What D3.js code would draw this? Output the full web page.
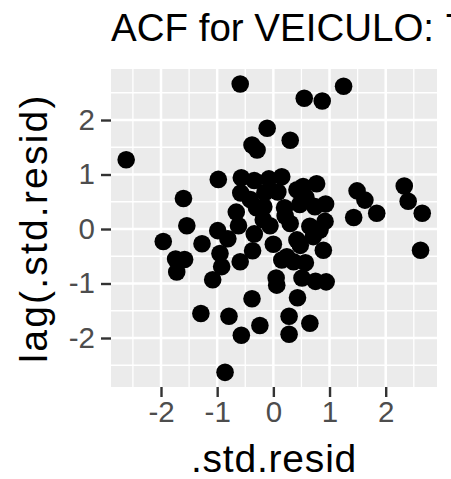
<!DOCTYPE html>
<html>
<head>
<meta charset="utf-8">
<script src="https://cdn.jsdelivr.net/npm/d3@7"></script>
<style>
  html, body { margin: 0; padding: 0; background: #ffffff; overflow: hidden; }
  svg { display: block; font-family: "Liberation Sans", Arial, Helvetica, sans-serif; }
</style>
</head>
<body>
<script>
// Standardised residuals (x) against their lag-1 values (y)
const stdResid = [
  -2.62, -0.59, 0.55, 0.87, 1.25, -0.11, 0.30, -0.38, -0.29,
  -0.98, -0.57, -0.34, -0.08, 0.15, 0.53, 0.77,
  -1.60, -0.58, -0.41, -0.15, 0.08, 0.42, 0.58,
  1.49, 1.63, 1.84, 1.43, 2.33, 2.40, 2.65, 2.62,
  -0.66, -0.30, -0.17, 0.20, 0.21, 0.47, 0.74, 0.93,
  -0.18, 0.30, 0.92, 0.65, -0.34, -0.06, -0.62, -0.99, -1.54, 0.83,
  -1.96, -1.27, -0.81, 0.00, 0.48, 0.71, 0.42, 0.89,
  -1.74, -1.58, -0.95, -0.37, -0.59, -0.92, 0.15, 0.36, 0.57, 0.24,
  -1.72, -1.08, 0.05, 0.06, 0.51, 0.75, 0.94,
  0.43, -0.38,
  -1.29, -0.79, -0.24, -0.57, 0.28, 0.28, 0.65, -0.86
];
const lagResid = [
  1.27, 2.66, 2.40, 2.35, 2.62, 1.85, 1.63, 1.54, 1.45,
  0.91, 0.94, 0.89, 0.92, 0.96, 0.78, 0.83,
  0.56, 0.66, 0.54, 0.67, 0.68, 0.72, 0.58,
  0.70, 0.53, 0.29, 0.21, 0.79, 0.51, 0.29, -0.39,
  0.31, 0.39, 0.41, 0.39, 0.24, 0.45, 0.41, 0.46,
  0.17, 0.10, 0.14, 0.05, -0.09, 0.06, 0.06, -0.03, 0.06, -0.02,
  -0.23, -0.27, -0.18, -0.28, -0.30, -0.14, -0.20, -0.39,
  -0.55, -0.56, -0.45, -0.40, -0.60, -0.69, -0.57, -0.60, -0.62, -0.51,
  -0.79, -0.93, -0.90, -1.03, -0.90, -0.96, -0.97,
  -1.26, -1.28,
  -1.55, -1.60, -1.77, -1.95, -1.60, -1.93, -1.73, -2.63
];

const xTicks = [-2, -1, 0, 1, 2];
const yTicks = [-2, -1, 0, 1, 2];
const xMinor = [-2.5, -1.5, -0.5, 0.5, 1.5, 2.5];
const yMinor = [-2.5, -1.5, -0.5, 0.5, 1.5, 2.5];

const titleText = "ACF for VEICULO: 7";
const xTitle = ".std.resid";
const yTitle = "lag(.std.resid)";

const W = 451, H = 479;
const panel = { left: 111, right: 437, top: 69, bottom: 387 };

const svg = d3.select("body").append("svg")
  .attr("width", W).attr("height", H);

const x = d3.scaleLinear().domain([-2.89, 2.913]).range([panel.left, panel.right]);
const y = d3.scaleLinear().domain([-2.899, 2.936]).range([panel.bottom, panel.top]);

// panel background
svg.append("rect")
  .attr("x", panel.left).attr("y", panel.top)
  .attr("width", panel.right - panel.left)
  .attr("height", panel.bottom - panel.top)
  .attr("fill", "#EBEBEB");

const grid = svg.append("g");
// minor grid
grid.selectAll(".vmin").data(xMinor).join("line")
  .attr("x1", d => x(d)).attr("x2", d => x(d))
  .attr("y1", panel.top).attr("y2", panel.bottom)
  .attr("stroke", "#fff").attr("stroke-width", 1.3);
grid.selectAll(".hmin").data(yMinor).join("line")
  .attr("y1", d => y(d)).attr("y2", d => y(d))
  .attr("x1", panel.left).attr("x2", panel.right)
  .attr("stroke", "#fff").attr("stroke-width", 1.3);
// major grid
grid.selectAll(".vmaj").data(xTicks).join("line")
  .attr("x1", d => x(d)).attr("x2", d => x(d))
  .attr("y1", panel.top).attr("y2", panel.bottom)
  .attr("stroke", "#fff").attr("stroke-width", 2.5);
grid.selectAll(".hmaj").data(yTicks).join("line")
  .attr("y1", d => y(d)).attr("y2", d => y(d))
  .attr("x1", panel.left).attr("x2", panel.right)
  .attr("stroke", "#fff").attr("stroke-width", 2.5);

// points
const pts = stdResid.map((v, i) => ({ x: v, y: lagResid[i] }));
svg.append("g").selectAll("circle").data(pts).join("circle")
  .attr("cx", d => x(d.x)).attr("cy", d => y(d.y))
  .attr("r", 8.8).attr("fill", "#000");

// axes
const fmt = d => d < 0 ? "-" + Math.abs(d) : String(d);
const xAxis = d3.axisBottom(x).tickValues(xTicks).tickSize(10).tickPadding(4).tickFormat(fmt);
const gx = svg.append("g").attr("transform", `translate(0,${panel.bottom})`).call(xAxis);
gx.select(".domain").remove();
gx.selectAll(".tick line").attr("stroke", "#333").attr("stroke-width", 2.4);
gx.selectAll(".tick text").attr("fill", "#4D4D4D").attr("font-size", 29.5)
  .attr("font-family", "Liberation Sans, Arial, sans-serif");

const yAxis = d3.axisLeft(y).tickValues(yTicks).tickSize(10).tickPadding(6).tickFormat(fmt);
const gy = svg.append("g").attr("transform", `translate(${panel.left},0)`).call(yAxis);
gy.select(".domain").remove();
gy.selectAll(".tick line").attr("stroke", "#333").attr("stroke-width", 2.4);
gy.selectAll(".tick text").attr("fill", "#4D4D4D").attr("font-size", 29.5)
  .attr("font-family", "Liberation Sans, Arial, sans-serif");

// titles
svg.append("text")
  .attr("x", panel.left).attr("y", 41)
  .attr("font-size", 38.5).attr("fill", "#000")
  .text(titleText);

svg.append("text")
  .attr("x", (panel.left + panel.right) / 2).attr("y", 472)
  .attr("text-anchor", "middle")
  .attr("font-size", 39).attr("letter-spacing", 0.8).attr("fill", "#000")
  .text(xTitle);

svg.append("text")
  .attr("transform", `translate(47,${(panel.top + panel.bottom) / 2}) rotate(-90)`)
  .attr("text-anchor", "middle")
  .attr("font-size", 39).attr("letter-spacing", 2.2).attr("fill", "#000")
  .text(yTitle);
</script>
</body>
</html>
